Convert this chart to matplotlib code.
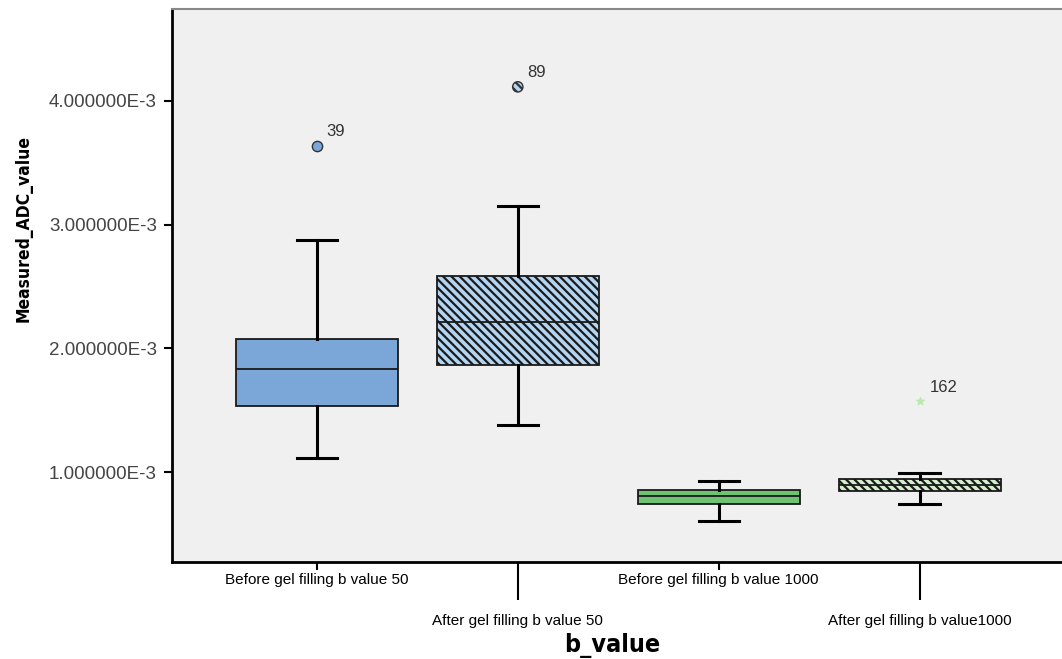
import numpy as np
import matplotlib.pyplot as plt

plt.rcParams['font.family'] = ['Liberation Sans', 'DejaVu Sans']
plt.rcParams['hatch.linewidth'] = 1.6

# Gruppene på x-aksen
groups = ["Before gel filling b value 50", "After gel filling b value 50",
          "Before gel filling b value 1000", "After gel filling b value1000"]

# Verdier lest av figuren (enhet mm^2/s)
whislo = [1.113e-3, 1.379e-3, 0.605e-3, 0.742e-3]
q1 = [1.532e-3, 1.863e-3, 0.742e-3, 0.847e-3]
med = [1.831e-3, 2.210e-3, 0.806e-3, 0.900e-3]
q3 = [2.073e-3, 2.589e-3, 0.855e-3, 0.944e-3]
whishi = [2.879e-3, 3.153e-3, 0.927e-3, 0.992e-3]

# Uteliggere: (gruppe, verdi, nummer)
out_group = [0, 1, 3]
out_value = [3.637e-3, 4.113e-3, 1.573e-3]
out_label = ["39", "89", "162"]

fills = ["#7aa7d7", "#b4d5f2", "#6fc271", "#d3efcc"]
hatches = [None, "\\\\\\\\", None, "\\\\\\\\"]

stats = []
for i in range(len(groups)):
    stats.append(dict(whislo=whislo[i], q1=q1[i], med=med[i], q3=q3[i],
                      whishi=whishi[i], fliers=[]))

fig = plt.figure(figsize=(10.62, 6.59), dpi=100)
ax = fig.add_axes([0.162, 0.147, 0.845, 0.839])
ax.set_facecolor("#f0f0f0")

pos = np.arange(1, len(groups) + 1)
bp = ax.bxp(stats, positions=pos, widths=0.806, patch_artist=True,
            showfliers=False, capwidths=0.2,
            boxprops=dict(edgecolor="#1a1a1a", linewidth=1.3),
            medianprops=dict(color="#1a1a1a", linewidth=1.3),
            whiskerprops=dict(color="black", linewidth=2.2),
            capprops=dict(color="black", linewidth=2.2))
for box, c, h in zip(bp["boxes"], fills, hatches):
    box.set_facecolor(c)
    if h:
        box.set_hatch(h)

# Uteliggere
for g, v, lab in zip(out_group, out_value, out_label):
    x = pos[g]
    if g == 3:
        ax.scatter(x, v, marker="*", s=30, color="#b8eab0", zorder=3)
    elif g == 1:
        ax.scatter(x, v, marker="o", s=55, facecolor=fills[1], edgecolor="#333333",
                   hatch="\\\\\\\\", linewidth=1, zorder=3)
    else:
        ax.scatter(x, v, marker="o", s=55, facecolor=fills[0], edgecolor="#333333",
                   linewidth=1, zorder=3)
    ax.annotate(lab, (x, v), xytext=(7, 10), textcoords="offset points",
                ha="left", va="center", fontsize=12, color="#333333")

ax.set_xlim(0.279, 4.746)
ax.set_ylim(0.274e-3, 4.74e-3)

ax.set_yticks([1e-3, 2e-3, 3e-3, 4e-3])
ax.set_yticklabels(["1.000000E-3", "2.000000E-3", "3.000000E-3", "4.000000E-3"])
ax.tick_params(axis="y", length=6, width=1.5, labelsize=13.5, labelcolor="#444444", pad=5)

# Annenhver etikett i to rader
ax.set_xticks(pos[::2])
ax.set_xticklabels(groups[::2])
ax.set_xticks(pos[1::2], minor=True)
ax.set_xticklabels(groups[1::2], minor=True)
ax.tick_params(axis="x", which="major", length=6, width=1.5, labelsize=11, pad=2)
ax.tick_params(axis="x", which="minor", length=27, width=1.5, labelsize=11, pad=10)

for s in ["left", "bottom"]:
    ax.spines[s].set_linewidth(2)
ax.spines["top"].set_color("#888888")
ax.spines["top"].set_linewidth(1.5)
ax.spines["right"].set_visible(False)

ax.set_ylabel("Measured_ADC_value", fontsize=12.5, fontweight="bold",
              family=["DejaVu Sans"], fontstretch="condensed")
ax.yaxis.set_label_coords(-0.155, 0.604)
ax.set_xlabel("b_value", fontsize=18, fontweight="bold",
              family=["DejaVu Sans"], fontstretch="condensed")
ax.xaxis.set_label_coords(0.49, -0.128)

plt.savefig("out.png", dpi=100)
